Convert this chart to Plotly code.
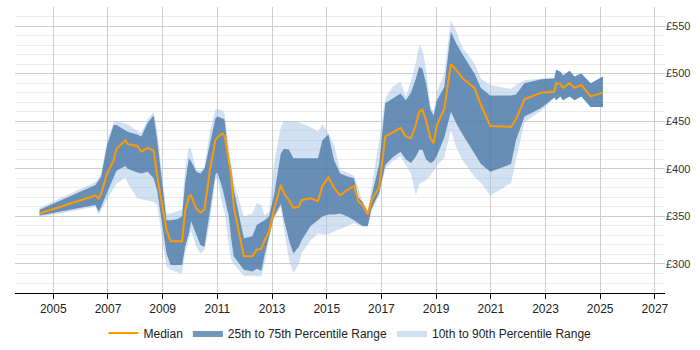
import plotly.graph_objects as go

years = [2004.5, 2006.54, 2006.66, 2006.75, 2006.97, 2007.21, 2007.31, 2007.64, 2007.72, 2008.07,
         2008.22, 2008.45, 2008.67, 2008.8, 2009.14, 2009.29, 2009.53, 2009.71, 2009.82, 2009.96,
         2010.04, 2010.23, 2010.38, 2010.53, 2010.73, 2010.93, 2011.0, 2011.18, 2011.26, 2011.42,
         2011.5, 2011.6, 2011.97, 2012.28, 2012.44, 2012.61, 2012.73, 2012.89, 2013.07, 2013.32,
         2013.44, 2013.62, 2013.78, 2013.98, 2014.08, 2014.41, 2014.68, 2014.84, 2015.06, 2015.27,
         2015.49, 2015.76, 2016.0, 2016.15, 2016.31, 2016.5, 2016.64, 2016.92, 2017.14, 2017.4,
         2017.7, 2017.89, 2018.08, 2018.26, 2018.38, 2018.5, 2018.63, 2018.79, 2018.91, 2019.03,
         2019.3, 2019.54, 2019.73, 2019.97, 2020.4, 2020.64, 2020.98, 2021.74, 2021.92, 2022.23,
         2022.84, 2023.32, 2023.39, 2023.55, 2023.64, 2023.88, 2024.06, 2024.31, 2024.65, 2025.1]

p90 = [359, 386, 390, 395, 430, 449, 450, 448, 447, 440,
       438, 452, 460, 440, 353, 353, 355, 357, 400, 423,
       420, 399, 398, 402, 440, 462, 463, 461, 458, 420,
       405, 386, 350, 353, 364, 362, 351, 355, 405, 444,
       450, 450, 450, 449, 448, 444, 439, 447, 437, 425,
       399, 396, 393, 380, 365, 356, 380, 430, 474, 486,
       492, 476, 492, 512, 530, 525, 505, 466, 460, 481,
       500, 556, 545, 527, 511, 495, 488, 484, 488, 493,
       495, 496, 504, 502, 498, 503, 497, 500, 490, 497]

p75 = [357, 383, 388, 392, 425, 446, 446, 440, 439, 436,
       434, 448, 456, 430, 346, 346, 347, 350, 385, 411,
       408, 397, 395, 400, 425, 453, 455, 453, 452, 410,
       400, 378, 327, 329, 341, 344, 346, 350, 372, 416,
       421, 420, 411, 411, 411, 411, 411, 430, 436, 409,
       395, 392, 390, 370, 365, 355, 372, 405, 469, 474,
       479, 472, 480, 495, 507, 505, 490, 462, 456, 472,
       486, 544, 532, 520, 500, 485, 477, 477, 478, 490,
       494, 495, 504, 502, 498, 503, 497, 500, 490, 497]

p50 = [353, 372, 369, 374, 395, 409, 421, 430, 426, 424,
       418, 422, 419, 392, 336, 324, 324, 324, 355, 371,
       372, 358, 354, 357, 399, 430, 433, 437, 435, 409,
       395, 360, 308, 308, 315, 316, 325, 334, 357, 383,
       374, 367, 359, 360, 367, 369, 366, 382, 391, 380,
       372, 378, 382, 366, 362, 352, 367, 381, 434, 438,
       443, 434, 432, 446, 460, 462, 451, 432, 427, 446,
       463, 510, 504, 495, 485, 467, 445, 444, 452, 473,
       480, 481, 490, 489, 485, 490, 485, 488, 476, 480]

p25 = [351, 362, 355, 360, 375, 392, 398, 403, 400, 396,
       395, 397, 390, 377, 311, 299, 299, 299, 318, 332,
       345, 330, 320, 318, 355, 394, 396, 380, 370, 350,
       328, 308, 294, 292, 295, 293, 310, 330, 350, 363,
       346, 325, 311, 318, 325, 340, 346, 350, 352, 352,
       353, 350, 346, 343, 340, 340, 358, 375, 404, 412,
       418, 410, 406, 413, 420, 420, 410, 406, 408, 414,
       433, 460, 448, 436, 416, 405, 397, 405, 430, 455,
       464, 475, 472, 476, 472, 476, 472, 476, 465, 465]

p10 = [349, 360, 352, 356, 368, 380, 384, 391, 385, 369,
       368, 367, 365, 362, 297, 294, 291, 290, 311, 327,
       335, 318, 311, 315, 345, 389, 390, 362, 355, 320,
       305, 300, 287, 288, 287, 287, 300, 325, 348, 360,
       335, 305, 290, 300, 311, 325, 332, 331, 331, 334,
       337, 340, 343, 341, 339, 339, 356, 372, 400, 408,
       413, 404, 395, 372, 384, 386, 388, 393, 398, 403,
       412, 441, 423, 409, 392, 385, 372, 385, 409, 449,
       461, 474, 472, 476, 472, 476, 472, 476, 465, 465]

tick_years = [2005, 2007, 2009, 2011, 2013, 2015, 2017, 2019, 2021, 2023, 2025, 2027]

LIGHT = "rgba(165,195,228,0.5)"
DARK = "rgba(60,110,160,0.72)"
ORANGE = "#FF9900"

fig = go.Figure()
fig.add_trace(go.Scatter(x=years, y=p10, mode="lines", line=dict(width=0), showlegend=False, hoverinfo="skip"))
fig.add_trace(go.Scatter(x=years, y=p90, mode="lines", line=dict(width=0), fill="tonexty",
                         fillcolor=LIGHT, name="10th to 90th Percentile Range", legendrank=3))
fig.add_trace(go.Scatter(x=years, y=p25, mode="lines", line=dict(width=0), showlegend=False, hoverinfo="skip"))
fig.add_trace(go.Scatter(x=years, y=p75, mode="lines", line=dict(width=0), fill="tonexty",
                         fillcolor=DARK, name="25th to 75th Percentile Range", legendrank=2))
fig.add_trace(go.Scatter(x=years, y=p50, mode="lines", line=dict(color=ORANGE, width=2),
                         name="Median", legendrank=1))

fig.update_layout(
    width=700, height=350,
    margin=dict(l=15, r=35, t=7, b=57, autoexpand=False),
    paper_bgcolor="white", plot_bgcolor="white",
    font=dict(family="Liberation Sans, Arial, sans-serif", size=12, color="#222"),
    legend=dict(orientation="h", x=0.5, xanchor="center", xref="container",
                y=17 / 350, yanchor="middle", yref="container",
                font=dict(size=12, color="#222"), traceorder="normal"),
    showlegend=True,
)
fig.update_xaxes(range=[2003.6, 2027.37], tickvals=tick_years, ticktext=[str(t) for t in tick_years],
                 showgrid=True, gridcolor="#cccccc", gridwidth=1,
                 showline=True, linecolor="#000000", linewidth=1,
                 ticks="outside", ticklen=5, tickcolor="#000000", zeroline=False,
                 tickfont=dict(size=12, color="#222"))
fig.update_yaxes(range=[269.5, 570], side="right", tick0=300, dtick=50, tickprefix="£",
                 showgrid=True, gridcolor="#cccccc", gridwidth=1, zeroline=False,
                 ticks="", tickfont=dict(size=11, color="#333"),
                 minor=dict(dtick=10, tick0=300, showgrid=True, gridcolor="#ebebeb", gridwidth=1))

fig.write_html("out.html")
